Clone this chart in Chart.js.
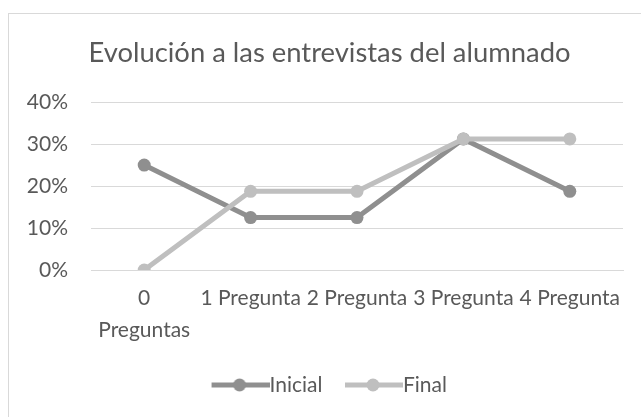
<!DOCTYPE html>
<html>
<head>
<meta charset="utf-8">
<script src="https://cdn.jsdelivr.net/npm/chart.js@4"></script>
<style>
  html, body { margin: 0; padding: 0; background: #fff; overflow: hidden; width: 641px; height: 417px; }
  #frame { position: absolute; left: 8px; top: 13px; width: 660px; height: 440px; border: 1px solid #d9d9d9; box-sizing: border-box; }
  #c { position: absolute; left: 0; top: 0; }
</style>
</head>
<body>
<div id="frame"></div>
<canvas id="c" width="641" height="417"></canvas>
<script>
const titleText = "Evolución a las entrevistas del alumnado";
const categories = [["0", "Preguntas"], "1 Pregunta", "2 Pregunta", "3 Pregunta", "4 Pregunta"];
const seriesNames = ["Inicial", "Final"];
const inicialValues = [25, 12.5, 12.5, 31.25, 18.75];
const finalValues = [0, 18.75, 18.75, 31.25, 31.25];
const yTicks = [0, 10, 20, 30, 40];

const FONT = "Lato, 'Open Sans', sans-serif";
const TEXT = "#595959";
const C_INI = "#8f8f8f";
const C_FIN = "#bfbfbf";

function legendIcon(color) {
  const cv = document.createElement("canvas");
  cv.width = 68; cv.height = 14;
  const g = cv.getContext("2d");
  g.strokeStyle = color; g.lineWidth = 5;
  g.beginPath(); g.moveTo(10, 7); g.lineTo(68, 7); g.stroke();
  g.fillStyle = color;
  g.beginPath(); g.arc(38, 7, 6.5, 0, Math.PI * 2); g.fill();
  return cv;
}

new Chart(document.getElementById("c"), {
  type: "line",
  data: {
    labels: categories,
    datasets: [
      { label: seriesNames[0], data: inicialValues, borderColor: C_INI, backgroundColor: C_INI,
        borderWidth: 5, pointRadius: 6.5, pointHoverRadius: 6.5, pointBorderWidth: 0, tension: 0, order: 1 },
      { label: seriesNames[1], data: finalValues, borderColor: C_FIN, backgroundColor: C_FIN,
        borderWidth: 5, pointRadius: 6.5, pointHoverRadius: 6.5, pointBorderWidth: 0, tension: 0, order: 0 }
    ]
  },
  options: {
    responsive: false,
    animation: false,
    layout: { padding: { left: 24, right: 6, top: 16, bottom: 11.5 } },
    plugins: {
      tooltip: { enabled: false },
      title: {
        display: true, text: titleText, color: TEXT,
        font: { family: FONT, size: 27.4, weight: "normal", lineHeight: 1.2 },
        padding: { top: 20.3, bottom: 33 }
      },
      legend: {
        position: "bottom",
        labels: {
          color: TEXT,
          font: { family: FONT, size: 21 },
          usePointStyle: true,
          pointStyleWidth: 47,
          padding: 23,
          sort: (a, b) => a.datasetIndex - b.datasetIndex,
          generateLabels: (chart) => chart.data.datasets.map((ds, i) => ({
            text: ds.label, datasetIndex: i, fontColor: TEXT,
            pointStyle: legendIcon(ds.borderColor), strokeStyle: ds.borderColor,
            fillStyle: ds.borderColor, lineWidth: 0, hidden: false
          }))
        }
      }
    },
    scales: {
      x: {
        offset: true,
        grid: { display: false, drawTicks: false, offset: true },
        border: { display: true, color: "#d9d9d9", width: 1 },
        ticks: { color: TEXT, font: { family: FONT, size: 21, lineHeight: 1.52 }, autoSkip: false, maxRotation: 0, minRotation: 0, padding: 12 },
        afterFit: (axis) => { axis.height = 81.5; }
      },
      y: {
        min: 0, max: 40,
        grid: { color: "#d9d9d9", lineWidth: 1, drawTicks: false },
        border: { display: false },
        afterBuildTicks: (axis) => { axis.ticks = yTicks.map(v => ({ value: v })); },
        ticks: { color: TEXT, font: { family: FONT, size: 21 }, padding: 23, callback: (v) => v + "%" },
        afterFit: (axis) => { axis.width = 67; }
      },
      yPad: {
        position: "right",
        display: true,
        grid: { display: false, drawTicks: false },
        border: { display: false },
        ticks: { display: false },
        afterFit: (axis) => { axis.width = 12; }
      }
    }
  }
});
</script>
</body>
</html>
